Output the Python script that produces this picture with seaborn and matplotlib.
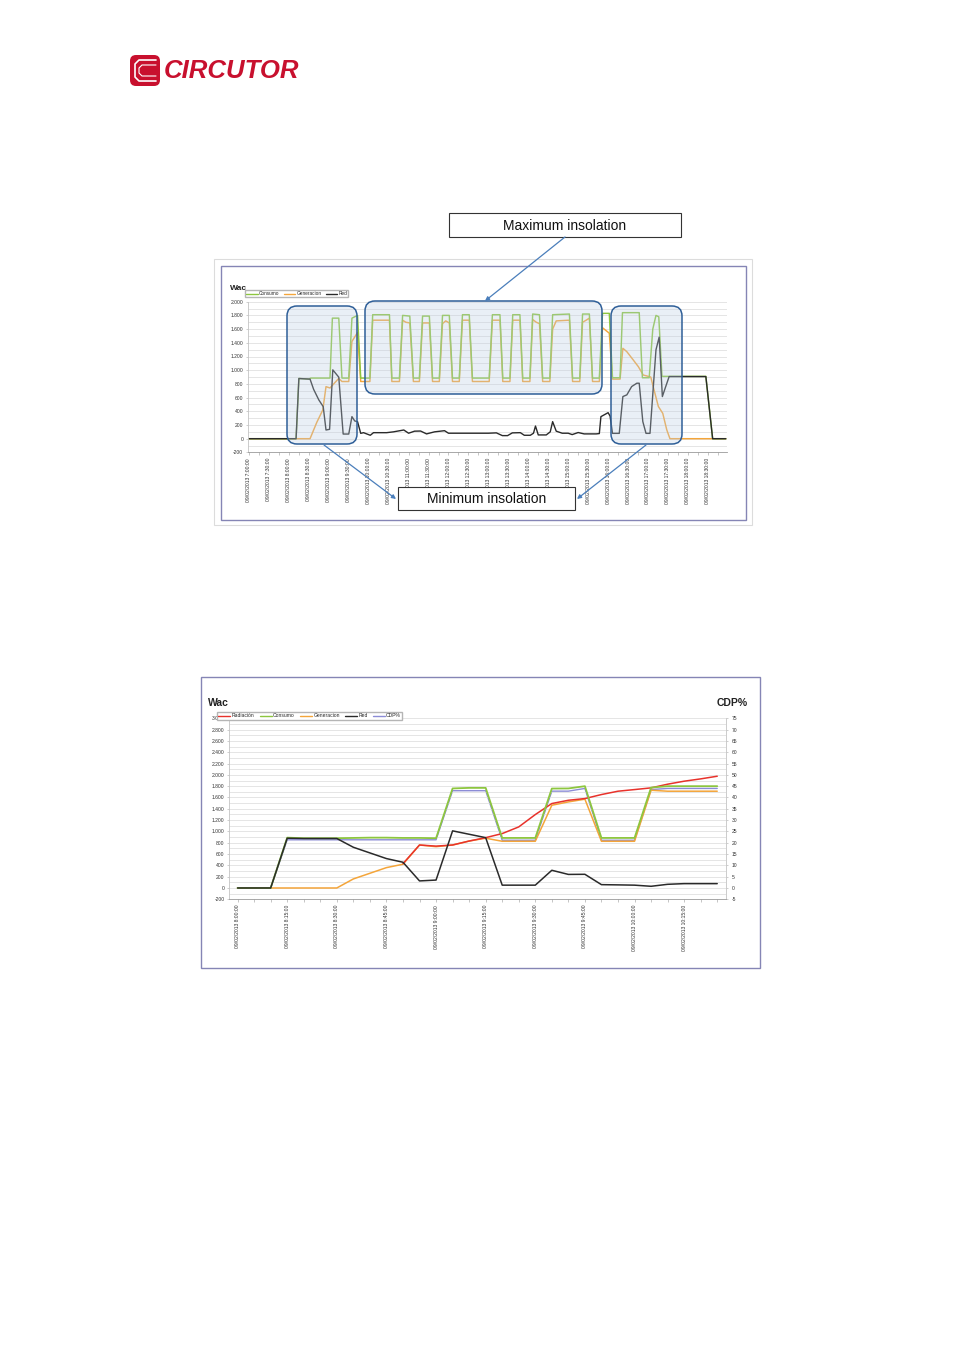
import numpy as np
import matplotlib
matplotlib.use("Agg")
import matplotlib.pyplot as plt
import seaborn as sns
from matplotlib.patches import FancyBboxPatch, Rectangle
from matplotlib.lines import Line2D
from matplotlib.ticker import MultipleLocator, FuncFormatter, FixedLocator

sns.set_style("white")
plt.rcParams['font.family'] = ['Liberation Sans', 'DejaVu Sans']
plt.rcParams['axes.unicode_minus'] = False

W, H = 954, 1350
nan = np.nan

# ---------------- Chart 1 : whole day 09/02/2013 (hours, Wac) ----------------
c1_tick_times = ["7:00", "7:30", "8:00", "8:30", "9:00", "9:30", "10:00", "10:30",
                 "11:00", "11:30", "12:00", "12:30", "13:00", "13:30", "14:00", "14:30",
                 "15:00", "15:30", "16:00", "16:30", "17:00", "17:30", "18:00", "18:30"]

cons1_t = [7.00, 8.18, 8.25, 8.50, 8.55, 9.03, 9.09, 9.25, 9.33, 9.50, 9.58, 9.65, 9.72, 9.80,
           10.03, 10.10, 10.52, 10.58, 10.77, 10.85, 11.03, 11.12, 11.27, 11.35, 11.52, 11.60,
           11.77, 11.85, 12.02, 12.10, 12.27, 12.35, 12.52, 12.60, 13.02, 13.10, 13.29, 13.36,
           13.54, 13.61, 13.79, 13.86, 14.04, 14.11, 14.28, 14.36, 14.54, 14.61, 15.03, 15.11,
           15.29, 15.36, 15.53, 15.61, 15.78, 15.86, 16.03, 16.11, 16.30, 16.36, 16.78, 16.86,
           17.03, 17.12, 17.20, 17.27, 17.35, 18.45, 18.62, 18.95]
cons1_w = [0, 0, 880, 870, 885, 885, 1760, 1760, 885, 885, 1760, 1780, 1800, 885,
           885, 1810, 1810, 885, 885, 1800, 1790, 885, 885, 1790, 1790, 885,
           885, 1800, 1800, 885, 885, 1810, 1810, 885, 885, 1810, 1810, 885,
           885, 1810, 1810, 885, 885, 1820, 1810, 885, 885, 1810, 1820, 885,
           885, 1820, 1820, 885, 885, 1830, 1830, 890, 890, 1840, 1840, 890,
           890, 1600, 1800, 1780, 910, 910, 0, 0]

gen1_t = [7.00, 8.53, 8.70, 8.85, 8.93, 9.03, 9.17, 9.25, 9.33, 9.50, 9.58, 9.72, 9.80,
          10.03, 10.10, 10.52, 10.58, 10.77, 10.85, 10.93, 11.03, 11.12, 11.27, 11.35, 11.52,
          11.60, 11.77, 11.85, 11.93, 12.02, 12.10, 12.27, 12.35, 12.52, 12.60, 13.02, 13.10,
          13.29, 13.36, 13.54, 13.61, 13.79, 13.86, 14.04, 14.11, 14.20, 14.28, 14.36, 14.54,
          14.61, 14.70, 15.03, 15.11, 15.29, 15.36, 15.45, 15.53, 15.61, 15.78, 15.86, 16.03,
          16.11, 16.30, 16.37, 16.47, 16.63, 16.76, 16.88, 17.07, 17.13, 17.26, 17.37, 17.47,
          17.55, 18.95]
gen1_w = [0, 0, 240, 420, 760, 740, 830, 880, 835, 835, 1420, 1550, 835,
          835, 1730, 1730, 835, 835, 1730, 1700, 1690, 835, 835, 1690, 1690,
          835, 835, 1680, 1720, 1690, 835, 835, 1730, 1730, 835, 835, 1730,
          1730, 835, 835, 1730, 1730, 835, 835, 1740, 1700, 1680, 835, 835,
          1600, 1720, 1730, 835, 835, 1700, 1730, 1760, 835, 835, 1620, 1540,
          870, 870, 1320, 1270, 1150, 1050, 930, 900, 760, 470, 370, 130,
          0, 0]

red1_t = [7.00, 8.18, 8.25, 8.53, 8.62, 8.75, 8.86, 8.93, 9.02, 9.10, 9.25, 9.36, 9.50,
          9.58, 9.65, 9.72, 9.80, 9.87, 10.04, 10.12, 10.45, 10.62, 10.88, 11.00, 11.15,
          11.30, 11.45, 11.65, 11.90, 12.00, 12.50, 13.00, 13.20, 13.35, 13.48, 13.60, 13.80,
          13.90, 14.05, 14.13, 14.18, 14.25, 14.45, 14.55, 14.61, 14.70, 14.85, 15.00, 15.10,
          15.25, 15.40, 15.70, 15.78, 15.82, 16.00, 16.05, 16.11, 16.28, 16.37, 16.47, 16.59,
          16.72, 16.78, 16.87, 16.95, 17.05, 17.20, 17.28, 17.36, 17.43, 17.53, 18.45, 18.62,
          18.95]
red1_w = [0, 0, 878, 870, 720, 566, 468, 127, 137, 1005, 898, 68, 68,
          322, 259, 249, 78, 88, 50, 88, 88, 100, 127, 80, 110,
          112, 70, 100, 117, 80, 80, 80, 85, 45, 45, 85, 88,
          50, 50, 80, 185, 55, 55, 100, 249, 110, 80, 80, 60,
          90, 70, 70, 75, 322, 380, 330, 78, 78, 615, 640, 761,
          810, 810, 250, 78, 78, 1298, 1483, 615, 737, 907, 907, 0,
          0]

# ---------------- Chart 2 : 8:00 - 10:25 (5 min samples) ----------------
c2_times = ["8:00", "8:05", "8:10", "8:15", "8:20", "8:25", "8:30", "8:35", "8:40", "8:45",
            "8:50", "8:55", "9:00", "9:05", "9:10", "9:15", "9:20", "9:25", "9:30", "9:35",
            "9:40", "9:45", "9:50", "9:55", "10:00", "10:05", "10:10", "10:15", "10:20", "10:25"]
c2_tick_times = ["8:00", "8:15", "8:30", "8:45", "9:00", "9:15", "9:30", "9:45", "10:00", "10:15"]

rad2 = [nan, nan, nan, nan, nan, nan, nan, nan, nan, nan, 430, 760, 740, 760, 830, 890, 962,
        1080, 1298, 1493, 1551, 1581, 1652, 1711, 1740, 1770, 1835, 1888, 1929, 1976]
cons2 = [0, 0, 0, 890, 880, 880, 880, 885, 890, 890, 885, 885, 880, 1760, 1770, 1770, 885,
         885, 885, 1758, 1760, 1800, 885, 885, 885, 1775, 1800, 1800, 1800, 1800]
gen2 = [0, 0, 0, 0, 0, 0, 0, 160, 260, 360, 420, 760, 730, 760, 830, 880, 826, 826, 826,
        1463, 1522, 1570, 826, 826, 826, 1728, 1711, 1711, 1711, 1711]
red2 = [0, 0, 0, 880, 875, 875, 875, 720, 620, 520, 455, 125, 140, 1010, 950, 890, 50, 50,
        50, 313, 240, 242, 59, 55, 50, 30, 65, 77, 77, 77]
cdp2 = [0, 0, 0, 21.3, 21.3, 21.3, 21.3, 21.3, 21.3, 21.3, 21.3, 21.3, 21.3, 43, 43, 43,
        21.1, 21.1, 21.1, 42.8, 42.8, 44, 21.1, 21.1, 21.1, 43.5, 44, 44, 44, 44]

C_CONS = '#8dc63f'
C_GEN = '#f4a53a'
C_RED = '#2a2a2a'
C_RAD = '#e8322b'
C_CDP = '#8c8cd6'
GRID = '#dadada'


def frac_rect(x0, y0, x1, y1):
    return [x0 / W, 1 - y1 / H, (x1 - x0) / W, (y1 - y0) / H]


def hours(s):
    h, m = s.split(":")
    return int(h) + int(m) / 60.0


thousands = FuncFormatter(lambda v, p: f"{v:,.0f}".replace(",", "."))


def style_value_axis(ax, ymin, ymax):
    ax.set_ylim(ymin, ymax)
    ax.yaxis.set_major_locator(MultipleLocator(200))
    ax.yaxis.set_minor_locator(MultipleLocator(100))
    ax.yaxis.set_major_formatter(thousands)
    ax.grid(True, axis='y', which='both', color=GRID, lw=0.5)
    ax.grid(False, axis='x')
    ax.set_axisbelow(True)
    for s in ['top', 'right']:
        ax.spines[s].set_visible(False)
    ax.spines['left'].set_color('#c4c4c4')
    ax.spines['left'].set_linewidth(0.6)
    ax.spines['bottom'].set_color('#9a9a9a')
    ax.spines['bottom'].set_linewidth(0.6)
    ax.tick_params(axis='y', which='major', length=1.5, width=0.4, color='#aaaaaa',
                   labelsize=3.6, pad=2, labelcolor='#333333', left=True)
    ax.tick_params(axis='y', which='minor', length=0)
    ax.tick_params(axis='x', which='both', length=2, width=0.4, color='#9a9a9a',
                   direction='out', bottom=True, labelsize=3.6, pad=2, labelcolor='#333333')
    ax.set_xlabel('')
    ax.set_ylabel('')


fig = plt.figure(figsize=(W / 100, H / 100), dpi=100)
fig.patch.set_facecolor('white')

# ======================= Chart 1 =======================
ax1 = fig.add_axes(frac_rect(248, 301.7, 727, 452.4))
ax1.set_facecolor('white')
sns.lineplot(x=gen1_t, y=gen1_w, ax=ax1, color=C_GEN, lw=1.05, legend=False)
sns.lineplot(x=cons1_t, y=cons1_w, ax=ax1, color=C_CONS, lw=1.05, legend=False)
sns.lineplot(x=red1_t, y=red1_w, ax=ax1, color=C_RED, lw=1.0, legend=False)
ax1.set_xlim(6.975, 18.98)
style_value_axis(ax1, -200, 2000)
ax1.xaxis.set_major_locator(FixedLocator([hours(t) for t in c1_tick_times]))
ax1.xaxis.set_minor_locator(MultipleLocator(0.25))
ax1.set_xticklabels([f"09/02/2013 {t}:00" for t in c1_tick_times], rotation=90,
                    va='top', ha='center')

fig.text(230 / W, 1 - 289 / H, "Wac", fontsize=6, fontweight='bold', ha='left',
         va='center', color='#222222')
h1 = [Line2D([], [], color=C_CONS, lw=1), Line2D([], [], color=C_GEN, lw=1),
      Line2D([], [], color=C_RED, lw=1)]
fig.legend(h1, ["Consumo", "Generacion", "Red"], loc='upper left',
           bbox_to_anchor=(245 / W, 1 - 290 / H), ncol=3, fontsize=3.4, frameon=True,
           fancybox=False, edgecolor='#b5b5b5', framealpha=1, borderpad=0.25,
           handlelength=2.4, handletextpad=0.3, columnspacing=0.9, borderaxespad=0)

# ======================= Chart 2 =======================
ax2 = fig.add_axes(frac_rect(229.3, 718.3, 725.5, 899.3))
axr = ax2.twinx()
x2 = list(range(len(c2_times)))
sns.lineplot(x=x2, y=gen2, ax=ax2, color=C_GEN, lw=1.1, legend=False)
sns.lineplot(x=x2, y=rad2, ax=ax2, color=C_RAD, lw=1.1, legend=False)
sns.lineplot(x=x2, y=cons2, ax=ax2, color=C_CONS, lw=1.3, legend=False)
sns.lineplot(x=x2, y=red2, ax=ax2, color=C_RED, lw=1.1, legend=False)
sns.lineplot(x=x2, y=cdp2, ax=axr, color=C_CDP, lw=1.0, legend=False)
ax2.set_xlim(-0.5, len(c2_times) - 0.5)
style_value_axis(ax2, -200, 3000)
ax2.xaxis.set_major_locator(FixedLocator([c2_times.index(t) for t in c2_tick_times]))
ax2.xaxis.set_minor_locator(MultipleLocator(1))
ax2.set_xticklabels([f"09/02/2013 {t}:00" for t in c2_tick_times], rotation=90,
                    va='top', ha='center')
ax2.set_zorder(2)
axr.set_zorder(1)
ax2.patch.set_visible(False)
axr.set_facecolor('white')
axr.set_ylim(-5, 75)
axr.yaxis.set_major_locator(MultipleLocator(5))
axr.grid(False)
for s in ['top', 'left']:
    axr.spines[s].set_visible(False)
axr.spines['right'].set_color('#c4c4c4')
axr.spines['right'].set_linewidth(0.6)
axr.spines['bottom'].set_visible(False)
axr.tick_params(axis='y', length=1.5, width=0.4, color='#aaaaaa', labelsize=3.6, pad=3,
                labelcolor='#333333', right=True)
axr.set_ylabel('')
axr.set_xlabel('')

fig.text(208 / W, 1 - 703 / H, "Wac", fontsize=7.5, fontweight='bold', ha='left',
         va='center', color='#222222')
fig.text(748 / W, 1 - 703 / H, "CDP%", fontsize=7.5, fontweight='bold', ha='right',
         va='center', color='#222222')
h2 = [Line2D([], [], color=C_RAD, lw=1), Line2D([], [], color=C_CONS, lw=1),
      Line2D([], [], color=C_GEN, lw=1), Line2D([], [], color=C_RED, lw=1),
      Line2D([], [], color=C_CDP, lw=1)]
fig.legend(h2, ["Radiación", "Consumo", "Generacion", "Red", "CDP%"], loc='upper left',
           bbox_to_anchor=(217 / W, 1 - 712 / H), ncol=5, fontsize=3.6, frameon=True,
           fancybox=False, edgecolor='#b5b5b5', framealpha=1, borderpad=0.25,
           handlelength=2.4, handletextpad=0.3, columnspacing=1.0, borderaxespad=0)

# ======================= Page overlay (logo, frames, callouts) =======================
ov = fig.add_axes([0, 0, 1, 1], zorder=10)
ov.set_xlim(0, W)
ov.set_ylim(H, 0)
ov.axis('off')

# logo
ov.add_patch(FancyBboxPatch((130, 55), 30, 31, boxstyle="round,pad=0,rounding_size=6",
                            fc='#c8102e', ec='none'))
ov.add_line(Line2D([156, 139, 135, 135, 139, 156], [60, 60, 64, 77, 81, 81],
                   color='white', lw=1.2))
ov.add_line(Line2D([156, 142, 139, 139, 142, 156], [65, 65, 68, 73, 76, 76],
                   color='white', lw=0.8))
ov.text(164, 71, "CIRCUTOR", fontsize=18.5, fontweight='bold', fontstyle='italic',
        color='#c8102e', ha='left', va='center')

# chart frames
ov.add_patch(Rectangle((214, 259), 538, 266, fill=False, ec='#dcdcdc', lw=0.8))
ov.add_patch(Rectangle((221, 266), 525, 254, fill=False, ec='#8585b5', lw=1.0))
ov.add_patch(Rectangle((201, 677), 559, 291, fill=False, ec='#8585b5', lw=1.0))

# insolation regions
for (x0, y0, x1, y1) in [(287, 306, 357, 444), (365, 301, 602, 394), (611, 306, 682, 444)]:
    ov.add_patch(FancyBboxPatch((x0, y0), x1 - x0, y1 - y0,
                                boxstyle="round,pad=0,rounding_size=10",
                                fc=(0.74, 0.81, 0.89, 0.32), ec='#2f5f98', lw=1.1))


def arrow(p0, p1):
    ov.annotate('', xy=p1, xytext=p0,
                arrowprops=dict(arrowstyle='-|>', color='#4a7ebb', lw=0.9,
                                mutation_scale=6, shrinkA=0, shrinkB=0))


arrow((565, 237), (485, 301))
arrow((324, 445), (396, 499))
arrow((646, 445), (577, 499))

ov.add_patch(Rectangle((449, 213), 232, 24, fc='white', ec='#333333', lw=0.8))
ov.text(565, 225.5, "Maximum insolation", fontsize=10, ha='center', va='center',
        color='#111111')
ov.add_patch(Rectangle((398, 487), 177, 23, fc='white', ec='#333333', lw=0.8))
ov.text(486.5, 499, "Minimum insolation", fontsize=10, ha='center', va='center',
        color='#111111')

fig.savefig("out.png", dpi=100, facecolor='white')
